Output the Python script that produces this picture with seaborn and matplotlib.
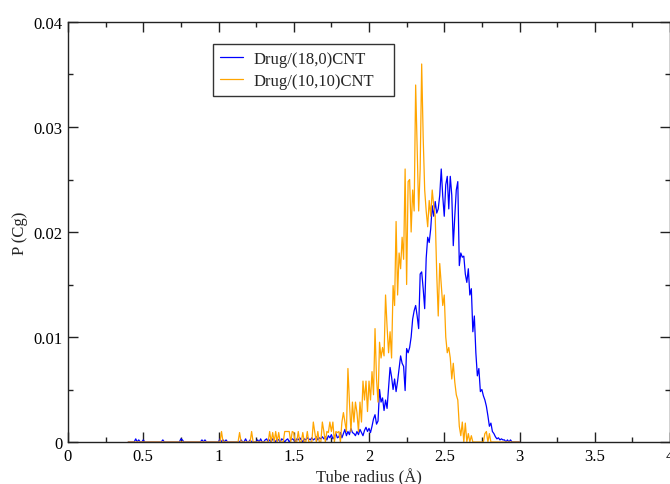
import numpy as np
import pandas as pd
import matplotlib
matplotlib.use("Agg")
import matplotlib.pyplot as plt
import seaborn as sns
from matplotlib.ticker import MultipleLocator

# Tube radius grid (Å), bin centres
radius = np.round(np.arange(0.40, 3.0001, 0.01), 2)

# P(Cg) values in units of 1e-4, one per radius bin
p_18_0 = [
    # 0.40-0.99
    0, 0, 0, 0, 0, 3, 0, 2, 0, 0,
    2, 0, 0, 0, 0, 0, 0, 0, 0, 0,
    0, 0, 0, 2, 0, 0, 0, 0, 0, 0,
    0, 0, 0, 0, 0, 3, 2, 0, 0, 0,
    0, 0, 0, 0, 0, 0, 0, 0, 0, 2,
    0, 2, 0, 0, 0, 0, 0, 0, 0, 0,
    # 1.00-1.99
    0, 3, 0, 2, 0, 2, 0, 0, 0, 0,
    0, 0, 0, 0, 0, 2, 0, 0, 3, 0,
    0, 2, 0, 0, 0, 0, 2, 0, 3, 0,
    0, 2, 3, 0, 2, 0, 3, 2, 0, 3,
    2, 0, 3, 2, 0, 2, 3, 0, 2, 3,
    2, 0, 3, 2, 4, 2, 0, 3, 2, 4,
    3, 2, 4, 2, 3, 5, 2, 4, 3, 5,
    3, 5, 2, 6, 4, 7, 3, 5, 8, 4,
    5, 9, 4, 8, 12, 6, 10, 7, 13, 9,
    8, 6, 10, 7, 12, 9, 6, 11, 14, 10,
    # 2.00-2.99
    13, 9, 15, 22, 26, 17, 20, 50, 38, 42,
    30, 40, 32, 52, 71, 62, 50, 60, 48, 58,
    70, 82, 75, 72, 49, 89, 85, 90, 100, 117,
    125, 130, 120, 108, 160, 162, 146, 127, 175, 195,
    190, 203, 225, 215, 229, 218, 222, 235, 260, 234,
    215, 245, 253, 222, 253, 235, 187, 215, 240, 248,
    168, 180, 176, 177, 160, 152, 165, 140, 146, 105,
    120, 85, 63, 70, 48, 50, 44, 40, 34, 25,
    15, 18, 10, 8, 5, 3, 4, 2, 3, 2,
    2, 0, 2, 0, 2, 0, 0, 0, 0, 0,
    # 3.00
    0,
]

p_10_10 = [
    # 0.40-0.99
    0, 0, 0, 0, 0, 0, 0, 0, 0, 0,
    0, 0, 0, 0, 0, 0, 0, 0, 0, 0,
    0, 0, 0, 0, 0, 0, 0, 0, 0, 0,
    0, 0, 0, 0, 0, 0, 0, 0, 0, 0,
    0, 0, 0, 0, 0, 0, 0, 0, 0, 0,
    0, 0, 0, 0, 0, 0, 0, 0, 0, 0,
    # 1.00-1.99
    0, 0, 10, 0, 0, 0, 0, 0, 0, 0,
    0, 0, 0, 0, 9, 0, 0, 0, 0, 0,
    0, 0, 10, 0, 0, 0, 0, 0, 0, 0,
    0, 0, 0, 0, 10, 0, 9, 0, 10, 0,
    9, 0, 0, 0, 10, 10, 10, 10, 0, 10,
    9, 0, 0, 10, 0, 0, 9, 0, 0, 10,
    0, 0, 0, 19, 9, 0, 10, 0, 0, 19,
    10, 0, 10, 9, 19, 10, 19, 0, 10, 9,
    10, 0, 19, 28, 19, 10, 70, 38, 10, 38,
    19, 38, 28, 10, 38, 19, 58, 40, 58, 29,
    # 2.00-2.99
    58, 40, 67, 45, 108, 60, 38, 95, 80, 90,
    82, 140, 110, 85, 105, 80, 149, 130, 210, 140,
    180, 165, 195, 174, 260, 150, 248, 250, 200, 240,
    220, 340, 280, 220, 260, 360, 290, 240, 220, 205,
    230, 215, 240, 225, 215, 160, 120, 170, 150, 130,
    140, 100, 85, 90, 80, 60, 75, 57, 45, 40,
    15, 6, 19, 0, 18, 0, 8, 0, 6, 0,
    0, 0, 0, 0, 0, 0, 0, 8, 10, 0,
    8, 0, 0, 0, 0, 0, 0, 0, 0, 0,
    0, 0, 0, 0, 0, 0, 0, 0, 0, 0,
    # 3.00
    0,
]

labels = ["Drug/(18,0)CNT", "Drug/(10,10)CNT"]
colors = ["#0000ff", "#ffa500"]

df = pd.concat([
    pd.DataFrame({"r": radius, "p": np.array(p_18_0) * 1e-4, "s": labels[0]}),
    pd.DataFrame({"r": radius, "p": np.array(p_10_10) * 1e-4, "s": labels[1]}),
], ignore_index=True)

sns.set_style("ticks")
plt.rcParams["font.family"] = ["Liberation Serif", "DejaVu Serif"]

fig = plt.figure(figsize=(6.7, 4.85), dpi=100)
ax = fig.add_axes([68 / 670, 42 / 485, 602 / 670, 420 / 485])

sns.lineplot(data=df, x="r", y="p", hue="s", hue_order=labels,
             palette=dict(zip(labels, colors)), estimator=None, sort=False,
             linewidth=0.9, ax=ax, legend=True)

ax.set_xlim(0, 4)
ax.set_ylim(0, 0.04)
ax.set_xticks([0, 0.5, 1, 1.5, 2, 2.5, 3, 3.5, 4])
ax.set_xticklabels(["0", "0.5", "1", "1.5", "2", "2.5", "3", "3.5", "4"])
ax.set_yticks([0, 0.01, 0.02, 0.03, 0.04])
ax.set_yticklabels(["0", "0.01", "0.02", "0.03", "0.04"])
ax.xaxis.set_minor_locator(MultipleLocator(0.25))
ax.yaxis.set_minor_locator(MultipleLocator(0.005))

ax.tick_params(which="both", direction="in", top=True, right=True,
               colors="#222222", width=1.0, labelsize=12, labelcolor="black", pad=4)
ax.tick_params(which="major", length=7.5)
ax.tick_params(which="minor", length=3.8)
for sp in ax.spines.values():
    sp.set_color("#222222")
    sp.set_linewidth(1.0)

ax.set_xlabel("Tube radius (Å)", fontsize=12, labelpad=3)
ax.set_ylabel("P (Cg)", fontsize=12, labelpad=4)

handles, _ = ax.get_legend_handles_labels()
x0 = (213 - 68) / 602
y1 = (443 - 45) / 420
w = (394 - 213) / 602
leg = ax.legend(handles, labels, loc="upper left",
                bbox_to_anchor=(x0, y1 - 0.2, w, 0.2), mode="expand",
                borderaxespad=0, frameon=True, fancybox=False, fontsize=12,
                handlelength=1.4, handletextpad=0.65, borderpad=0.4,
                labelspacing=0.4)
leg.get_frame().set_edgecolor("black")
leg.get_frame().set_linewidth(1.0)
for ln in leg.get_lines():
    ln.set_linewidth(0.9)

fig.savefig("out.png", dpi=100, facecolor="white")
